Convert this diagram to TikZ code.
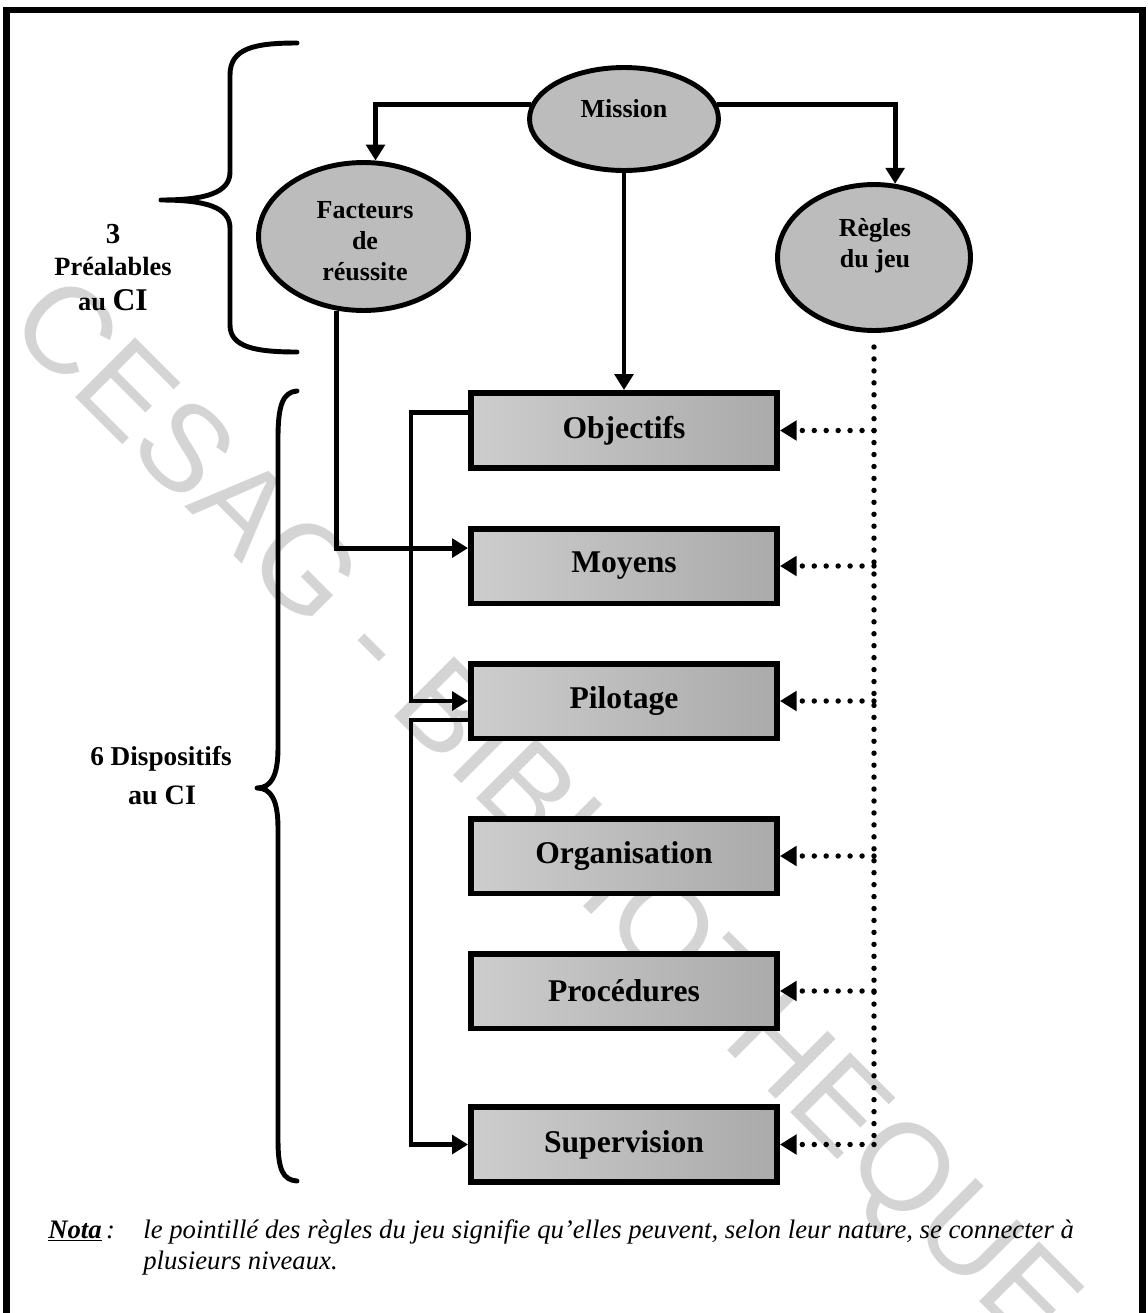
\documentclass[tikz,border=0pt]{standalone}
\usepackage{fontspec}
\setmainfont{Liberation Serif}
\newfontfamily\marksans{Liberation Sans}
\usetikzlibrary{arrows.meta,shapes.geometric}

\definecolor{ovalfill}{RGB}{188,188,188}
\definecolor{boxleft}{RGB}{205,205,205}
\definecolor{boxright}{RGB}{170,170,170}
\definecolor{markgray}{RGB}{212,212,212}

\tikzset{
  frameline/.style={line width=3.6pt},
  conn/.style={line width=2.8pt, -{Triangle[length=9pt,width=10.5pt]}},
  dotline/.style={line width=3.1pt, line cap=round, dash pattern=on 0pt off 6.8pt},
  dotarrow/.style={dotline, -{Triangle[length=9.5pt,width=11pt]}},
  bracket/.style={line width=2.8pt, line cap=round, line join=round},
  oval/.style={ellipse, draw, line width=2.8pt, fill=ovalfill, inner sep=0pt},
  ovaltext/.style={font=\bfseries\fontsize{14.8}{17.6}\selectfont, align=center, inner sep=0pt},
  stagebox/.style={rectangle, draw, line width=3.4pt, minimum width=6.12cm,
    minimum height=1.5cm, left color=boxleft, right color=boxright,
    font=\bfseries\fontsize{18}{21}\selectfont},
  sidelabel/.style={font=\bfseries\fontsize{15}{18}\selectfont, inner sep=0pt, anchor=base},
  notetext/.style={font=\itshape\fontsize{15.2}{18}\selectfont, inner sep=0pt, anchor=base west},
  watermark/.style={font=\marksans\fontsize{70}{74}\selectfont, text=markgray, inner sep=0pt}
}

\begin{document}
\begin{tikzpicture}[x=0.02cm, y=-0.02cm]
  \useasboundingbox (0,0) rectangle (1148,1313);
  \fill[white] (0,0) rectangle (1148,1313);

  % library stamp across the page
  \node[watermark, rotate=-45] (stamp) at (540,818) {CESAG - BIBLIOTHEQUE};

  % page frame (continues below the visible area)
  \draw[frameline] (6.5,1350) -- (6.5,10) -- (1142.5,10) -- (1142.5,1350);

  % the three prerequisites
  \node[oval, minimum width=3.78cm, minimum height=2.06cm] (mission) at (624,119) {};
  \node[ovaltext] (mission-t) at (624,109) {Mission};
  \node[oval, minimum width=4.2cm, minimum height=2.96cm] (facteurs) at (363.5,236.5) {};
  \node[ovaltext] (facteurs-t) at (365,241) {Facteurs\\de\\réussite};
  \node[oval, minimum width=3.86cm, minimum height=2.92cm] (regles) at (874,257.5) {};
  \node[ovaltext] (regles-t) at (875,246) {Règles\\du jeu};

  % the six mechanisms
  \node[stagebox] (objectifs)    at (624,430.5) {Objectifs};
  \node[stagebox] (moyens)       at (624,566)   {Moyens};
  \node[stagebox] (pilotage)     at (624,701)   {Pilotage};
  \node[stagebox] (organisation) at (624,856)   {Organisation};
  \node[stagebox] (procedures)   at (624,991)   {Procédures};
  \node[stagebox] (supervision)  at (624,1144.5){Supervision};

  % connector lanes
  \coordinate (lane) at (411,0);
  \coordinate (rulelane) at (874,0);
  \coordinate (ruleend) at (874,1145);

  % solid links
  \draw[conn] (mission.171) -| (facteurs.81);
  \draw[conn] (mission.9) -| (regles.74);
  \draw[conn] (mission.south) -- (objectifs.north);
  \draw[conn] (facteurs.-110) |- ([yshift=10.2pt]moyens.west);
  \draw[conn] ([yshift=10.5pt]objectifs.west) -- ([yshift=10.5pt]objectifs.west -| lane) |- (pilotage.west);
  \draw[conn] ([yshift=-10.8pt]pilotage.west) -- ([yshift=-10.8pt]pilotage.west -| lane) |- (supervision.west);

  % dotted links of the rules
  \draw[dotline] ([yshift=-8pt]regles.south) -- (ruleend);
  \foreach \b in {objectifs,moyens,pilotage,organisation,procedures,supervision}
    \draw[dotarrow] (\b.east -| rulelane) -- (\b.east);

  % braces
  \draw[bracket] (297,43) .. controls (255,43) and (230,48) .. (230,75) -- (230,172)
    .. controls (230,193) and (205,200) .. (161,200)
    .. controls (205,200) and (230,207) .. (230,228) -- (230,325)
    .. controls (230,347) and (255,352) .. (297,352);
  \draw[bracket] (297,391) .. controls (283,392) and (278,405) .. (278,438) -- (278,748)
    .. controls (278,776) and (271,788) .. (257,788)
    .. controls (271,788) and (278,800) .. (278,828) -- (278,1140)
    .. controls (278,1170) and (283,1180) .. (297,1181);

  % side labels
  \node[sidelabel, font=\bfseries\fontsize{16.5}{18}\selectfont] (pre-n) at (113,243) {3};
  \node[sidelabel] (pre-a) at (113,275) {Préalables};
  \node[sidelabel] (pre-b) at (113,310) {au {\fontsize{18}{18}\selectfont CI}};
  \node[sidelabel, font=\bfseries\fontsize{15.5}{18}\selectfont] (dis-a) at (161,765) {6 Dispositifs};
  \node[sidelabel, font=\bfseries\fontsize{16}{18}\selectfont] (dis-b) at (162,804) {au CI};

  % footnote
  \node[notetext] (nota) at (48,1238) {\underline{\textbf{Nota}}\,:};
  \node[notetext] (note-a) at (143,1238) {le pointillé des règles du jeu signifie qu’elles peuvent, selon leur nature, se connecter à};
  \node[notetext] (note-b) at (143,1269) {plusieurs niveaux.};
\end{tikzpicture}
\end{document}
